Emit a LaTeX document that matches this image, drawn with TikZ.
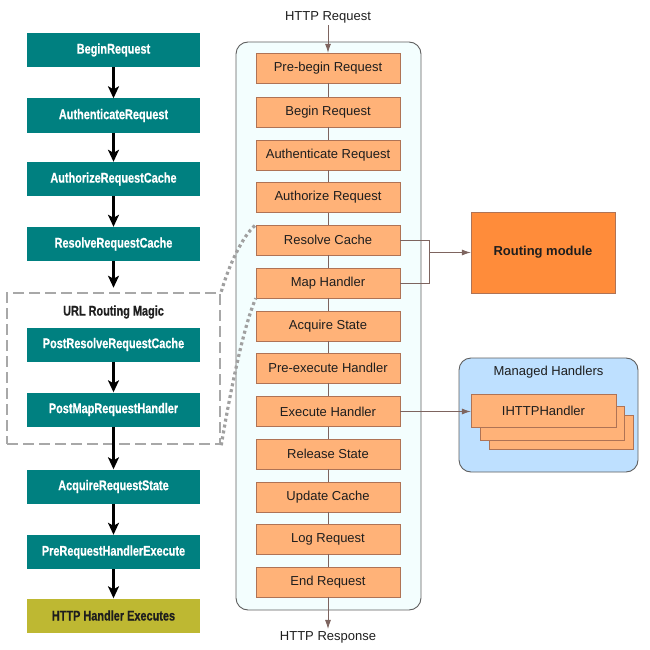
\documentclass[tikz,border=0pt]{standalone}
\usepackage{fontspec}
\setmainfont{Liberation Sans}
\newfontfamily\condfont[FakeStretch=0.78,FakeBold=0.6]{Liberation Sans}
\usetikzlibrary{arrows.meta}
\definecolor{teal1}{RGB}{0,128,128}
\definecolor{olive1}{RGB}{190,184,50}
\definecolor{orfill}{RGB}{255,178,120}
\definecolor{ordraw}{RGB}{175,115,85}
\definecolor{routfill}{RGB}{255,140,58}
\definecolor{flowline}{RGB}{125,100,95}
\definecolor{contfill}{RGB}{243,254,254}
\definecolor{contdraw}{RGB}{95,95,95}
\definecolor{mhfill}{RGB}{190,224,255}
\definecolor{dashgray}{RGB}{168,168,168}
\definecolor{dotgray}{RGB}{160,160,160}
\definecolor{txtdark}{RGB}{30,30,30}
\begin{document}
\begin{tikzpicture}[x=1pt,y=-1pt,
  evt/.style={fill=teal1, minimum width=173pt, minimum height=34pt, inner sep=0pt, text=white, font=\condfont\bfseries\fontsize{14}{16}\selectfont},
  evtlast/.style={evt, fill=olive1, text=txtdark},
  stagebox/.style={draw=ordraw, fill=orfill, minimum width=144pt, minimum height=30pt, inner sep=0pt, text=txtdark, font=\fontsize{13}{15}\selectfont},
  lbl/.style={text=txtdark, font=\fontsize{13}{15}\selectfont, inner sep=2pt},
  blk/.style={-{Stealth[length=12pt,width=11pt,inset=3pt]}, line width=2.2pt, black},
  flow/.style={draw=flowline, line width=0.8pt},
  flowarr/.style={flow, -{Latex[length=9pt,width=6pt]}},
  dotline/.style={draw=dotgray, line width=3.2pt, dash pattern=on 3pt off 3pt},
]
\useasboundingbox (0,0) rectangle (650,650);

% ---------- left column ----------
\node[draw=dashgray, line width=2.5pt, dash pattern=on 11pt off 5pt, minimum width=213pt, minimum height=151pt, inner sep=0pt] (urlbox) at (113.5,368.5) {};
\node[text=txtdark, font=\condfont\bfseries\fontsize{14}{16}\selectfont] (urllbl) at (113.5,312) {URL Routing Magic};

\node[evt] (b1) at (113.5,50) {BeginRequest};
\node[evt] (b2) at (113.5,115.5) {AuthenticateRequest};
\node[evt] (b3) at (113.5,179) {AuthorizeRequestCache};
\node[evt] (b4) at (113.5,244) {ResolveRequestCache};
\node[evt] (b5) at (113.5,344.5) {PostResolveRequestCache};
\node[evt] (b6) at (113.5,409.5) {PostMapRequestHandler};
\node[evt] (b7) at (113.5,486.5) {AcquireRequestState};
\node[evt] (b8) at (113.5,552) {PreRequestHandlerExecute};
\node[evtlast] (b9) at (113.5,615.5) {HTTP Handler Executes};

\draw[blk] (b1) -- (b2);
\draw[blk] (b2) -- (b3);
\draw[blk] (b3) -- (b4);
\draw[blk, shorten >=4pt] (b4) -- (urlbox.north);
\draw[blk] (b5) -- (b6);
\draw[blk] (b6) -- (b7);
\draw[blk] (b7) -- (b8);
\draw[blk] (b8) -- (b9);

% ---------- middle pipeline ----------
\node[draw=contdraw, fill=contfill, line width=0.9pt, rounded corners=12pt, minimum width=185pt, minimum height=568pt, inner sep=0pt] (cont) at (328.5,326) {};

\node[stagebox] (s1) at (328,68) {Pre-begin Request};
\node[stagebox] (s2) at (328,112) {Begin Request};
\node[stagebox] (s3) at (328,155) {Authenticate Request};
\node[stagebox] (s4) at (328,197.5) {Authorize Request};
\node[stagebox] (s5) at (328,240) {Resolve Cache};
\node[stagebox] (s6) at (328,283) {Map Handler};
\node[stagebox] (s7) at (328,326) {Acquire State};
\node[stagebox] (s8) at (328,368) {Pre-execute Handler};
\node[stagebox] (s9) at (328,411.5) {Execute Handler};
\node[stagebox] (s10) at (328,454) {Release State};
\node[stagebox] (s11) at (328,497) {Update Cache};
\node[stagebox] (s12) at (328,539) {Log Request};
\node[stagebox] (s13) at (328,582) {End Request};

\foreach \a/\b in {s1/s2,s2/s3,s3/s4,s4/s5,s5/s6,s6/s7,s7/s8,s8/s9,s9/s10,s10/s11,s11/s12,s12/s13}
  \draw[flow] (\a) -- (\b);

\node[lbl] (req) at (328,17) {HTTP Request};
\node[lbl] (resp) at (328,637) {HTTP Response};
\draw[flowarr] (req) -- (s1);
\draw[flowarr] (s13) -- (resp);

% ---------- routing module ----------
\node[draw=ordraw, fill=routfill, minimum width=144pt, minimum height=81pt, inner sep=0pt, text=txtdark, font=\bfseries\fontsize{13}{15}\selectfont] (rout) at (543,252.5) {Routing module};
\coordinate (j) at (429,252.5);
\draw[flow] (s5.east) -- (s5.east -| j) -- (s6.east -| j) -- (s6.east);
\draw[flowarr] (j) -- (rout.west);

% ---------- managed handlers ----------
\node[draw=contdraw, fill=mhfill, line width=0.9pt, rounded corners=12pt, minimum width=179pt, minimum height=114pt, inner sep=0pt] (mh) at (548.5,415) {};
\node[lbl] (mhl) at (548.5,372) {Managed Handlers};
\node[stagebox, minimum width=144pt, minimum height=34pt] (h3) at (561,432) {};
\node[stagebox, minimum width=144pt, minimum height=34pt] (h2) at (552,423.5) {};
\node[stagebox, minimum width=145pt, minimum height=33pt] (h1) at (543.5,410.5) {IHTTPHandler};
\draw[flowarr] (s9.east) -- (s9.east -| h1.west);

% ---------- dotted zoom lines ----------
\draw[dotline] (urlbox.north east) .. controls (228,268) and (242,236) .. (s5.north west);
\draw[dotline] (urlbox.south east) .. controls (228,405) and (242,330) .. (s6.south west);
\end{tikzpicture}
\end{document}
